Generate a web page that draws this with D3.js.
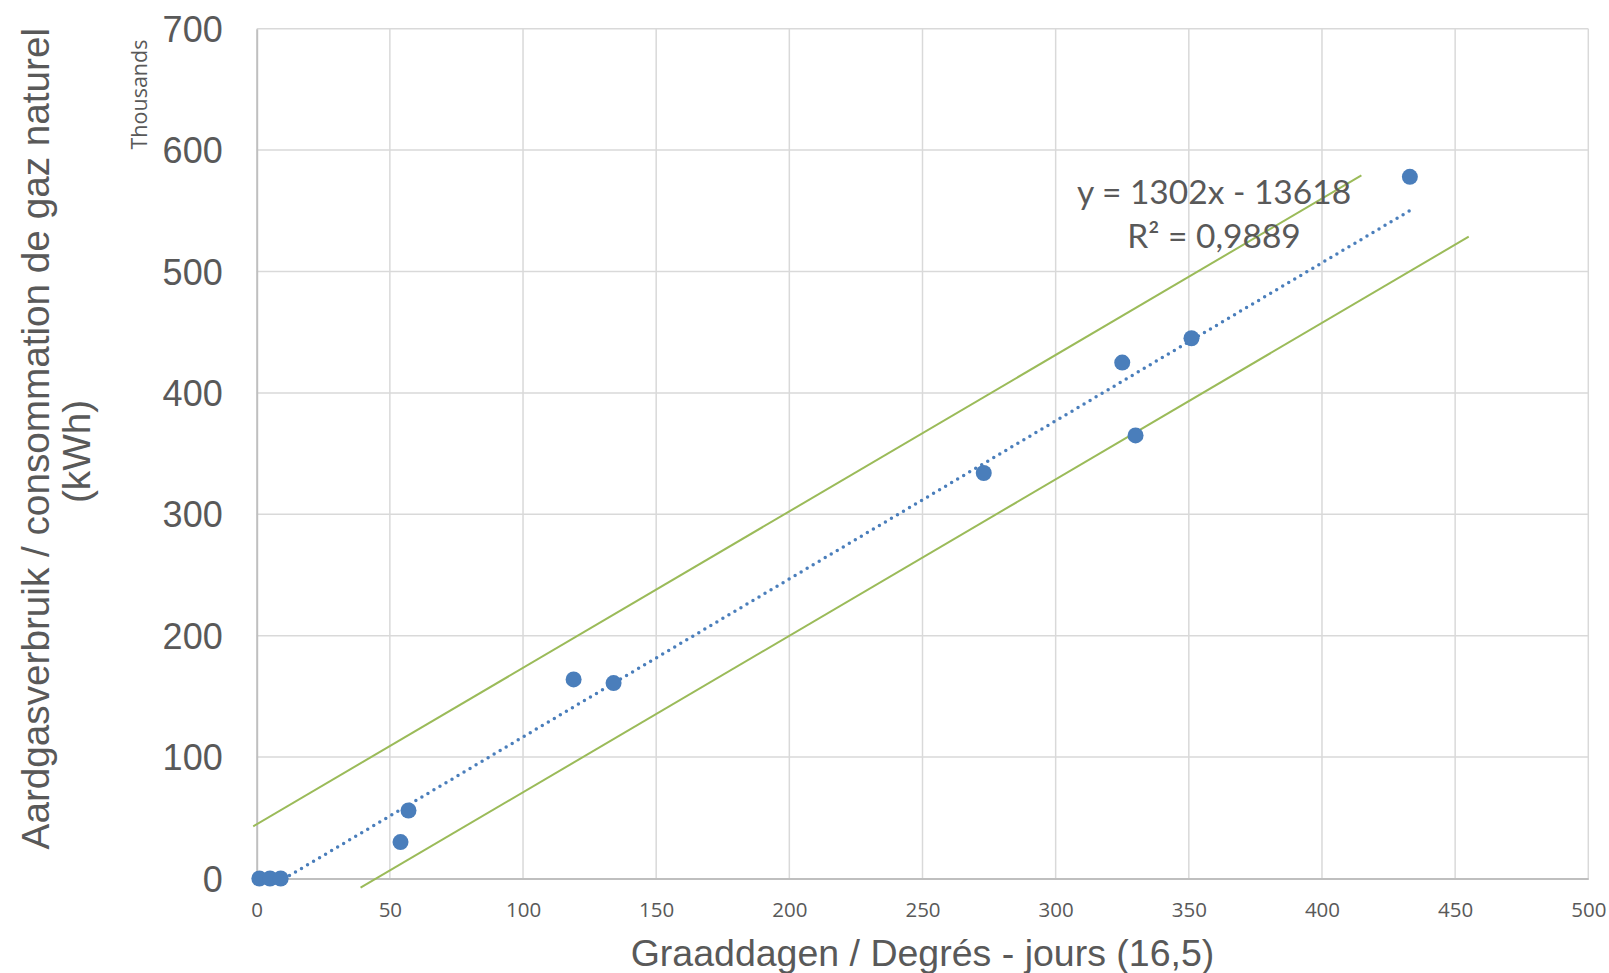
<!DOCTYPE html>
<html>
<head>
<meta charset="utf-8">
<script src="https://cdn.jsdelivr.net/npm/d3@7"></script>
<style>
  html, body { margin: 0; padding: 0; background: #ffffff; }
  svg { display: block; }
</style>
</head>
<body>
<svg id="chart" width="1609" height="973"></svg>
<script>
// ---- data ----
const degreeDays = [1, 5, 9, 54, 57, 119, 134, 273, 325, 330, 351, 433];
const gasThousands = [0, 0, 0, 30, 56, 164, 161, 334, 425, 365, 445, 578];
const xTicks = [0, 50, 100, 150, 200, 250, 300, 350, 400, 450, 500];
const yTicks = [0, 100, 200, 300, 400, 500, 600, 700];
const trendSlope = 1302;      // kWh per degree-day
const trendIntercept = -13618; // kWh
const equationLines = ["y = 1302x - 13618", "R² = 0,9889"];
const upperBand = [[-1.3, 43], [414.8, 579.2]];
const lowerBand = [[39, -7.6], [455.1, 528.7]];
const xTitle = "Graaddagen / Degrés - jours (16,5)";
const yTitleLines = ["Aardgasverbruik / consommation de gaz naturel", "(kWh)"];
const unitLabel = "Thousands";

// ---- layout ----
const svg = d3.select("#chart");
const plot = { left: 256.7, top: 28.7, right: 1588.3, bottom: 878.5 };
const x = d3.scaleLinear().domain([0, 500]).range([plot.left, plot.right]);
const y = d3.scaleLinear().domain([0, 700]).range([plot.bottom, plot.top]);
const textColor = "#595959";
const blue = "#4A7EBB";
const green = "#9BBB59";

svg.append("rect").attr("width", 1609).attr("height", 973).attr("fill", "#fff");

// gridlines
const grid = svg.append("g");
grid.selectAll("line.v").data(xTicks.filter(d => d > 0)).join("line")
  .attr("x1", d => x(d)).attr("x2", d => x(d))
  .attr("y1", plot.top).attr("y2", plot.bottom)
  .attr("stroke", "#d9d9d9").attr("stroke-width", 1.5);
grid.selectAll("line.h").data(yTicks.filter(d => d > 0)).join("line")
  .attr("x1", plot.left).attr("x2", plot.right)
  .attr("y1", d => y(d)).attr("y2", d => y(d))
  .attr("stroke", "#d9d9d9").attr("stroke-width", 1.5);

// axes
const xAxis = svg.append("g").attr("transform", `translate(0,${plot.bottom})`)
  .call(d3.axisBottom(x).tickValues(xTicks).tickSize(0).tickPadding(0).tickFormat(d3.format("d")));
xAxis.select(".domain").attr("stroke", "#bfbfbf").attr("stroke-width", 2);
xAxis.selectAll("text")
  .attr("y", 38.5).attr("dy", null)
  .attr("fill", textColor)
  .style("font-family", "'Open Sans', sans-serif").style("font-size", "20.5px");

const yAxis = svg.append("g").attr("transform", `translate(${plot.left},0)`)
  .call(d3.axisLeft(y).tickValues(yTicks).tickSize(0).tickPadding(34).tickFormat(d3.format("d")));
yAxis.select(".domain").attr("stroke", "#bfbfbf").attr("stroke-width", 2);
yAxis.selectAll("text")
  .attr("dy", "0.35em")
  .attr("fill", textColor)
  .style("font-family", "'Liberation Sans', Arial, sans-serif").style("font-size", "36px");

// clip for trendline
svg.append("clipPath").attr("id", "plotClip").append("rect")
  .attr("x", plot.left).attr("y", plot.top)
  .attr("width", plot.right - plot.left).attr("height", plot.bottom - plot.top);

// band lines
const line = d3.line().x(d => x(d[0])).y(d => y(d[1]));
svg.append("path").datum(upperBand).attr("d", line)
  .attr("stroke", green).attr("stroke-width", 2).attr("fill", "none");
svg.append("path").datum(lowerBand).attr("d", line)
  .attr("stroke", green).attr("stroke-width", 2).attr("fill", "none");

// trendline (dotted), from min x to max x of data
const xExt = d3.extent(degreeDays);
const trendPts = xExt.map(v => [v, (trendSlope * v + trendIntercept) / 1000]);
svg.append("path").datum(trendPts).attr("d", line)
  .attr("clip-path", "url(#plotClip)")
  .attr("stroke", blue).attr("stroke-width", 3.5).attr("fill", "none")
  .attr("stroke-dasharray", "0,7").attr("stroke-linecap", "round");

// points
svg.append("g").selectAll("circle").data(degreeDays.map((d, i) => [d, gasThousands[i]])).join("circle")
  .attr("cx", d => x(d[0])).attr("cy", d => y(d[1])).attr("r", 8)
  .attr("fill", blue);

// equation label
const eq = svg.append("text").attr("text-anchor", "middle")
  .attr("fill", textColor)
  .style("font-family", "Lato, 'Open Sans', sans-serif").style("font-size", "33.5px");
eq.selectAll("tspan").data(equationLines).join("tspan")
  .attr("x", 1214).attr("y", (d, i) => 204 + i * 44.3).text(d => d);

// axis titles
svg.append("text").attr("x", (plot.left + plot.right) / 2).attr("y", 966)
  .attr("text-anchor", "middle").attr("fill", textColor)
  .style("font-family", "'Liberation Sans', Arial, sans-serif").style("font-size", "37.5px")
  .text(xTitle);

const yt = svg.append("text").attr("transform", "rotate(-90)")
  .attr("text-anchor", "middle").attr("fill", textColor)
  .style("font-family", "'Liberation Sans', Arial, sans-serif").style("font-size", "38.7px");
yt.append("tspan").attr("x", -438.7).attr("y", 49).text(yTitleLines[0]);
yt.append("tspan").attr("x", -451.5).attr("y", 90).text(yTitleLines[1]);

svg.append("text").attr("transform", "translate(146.7,94.5) rotate(-90)")
  .attr("text-anchor", "middle").attr("fill", textColor)
  .style("font-family", "'Open Sans', sans-serif").style("font-size", "21.5px")
  .text(unitLabel);
</script>
</body>
</html>
